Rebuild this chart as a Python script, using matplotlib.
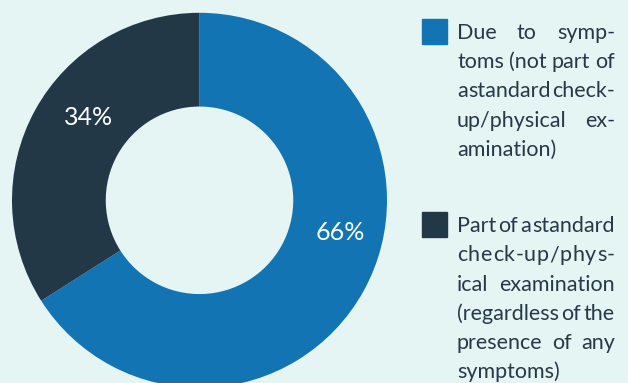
import matplotlib
matplotlib.use("Agg")
import matplotlib.pyplot as plt

# share of tests by reason
shares = [66, 34]
colors = ["#1274b3", "#233847"]

# legend text, already broken into lines
legend_lines = [
    ["Due to symp-", "toms (not part of", "a standard check-", "up/physical ex-", "amination)"],
    ["Part of a standard", "check-up/phys-", "ical examination", "(regardless of the",
     "presence of any", "symptoms)"],
]

BG = "#e5f5f4"
TXT = "#273847"
W, H = 628, 383

fig = plt.figure(figsize=(W / 100, H / 100), dpi=100, facecolor=BG)

# donut axes, centre (199.5, 200) px, outer radius 187.5 px
cx, cy, R = 199.5, 200.3, 187.5
ax = fig.add_axes([(cx - R) / W, (H - cy - R) / H, 2 * R / W, 2 * R / H])
ax.set_facecolor(BG)
wedges, _, pct = ax.pie(shares, colors=colors, startangle=90, counterclock=False,
                        autopct="%d%%", radius=1.0,
                        wedgeprops=dict(width=0.5, edgecolor="none"),
                        textprops=dict(color="white", fontsize=18, family="Lato"))
ax.set_xlim(-1, 1)
ax.set_ylim(-1, 1)
ax.set_aspect("equal")
ax.axis("off")
pct[0].set_position((0.75, -0.17))
pct[1].set_position((-0.59, 0.44))
for t in pct:
    t.set_ha("center")
    t.set_va("center")


def px(x, y):
    return x / W, 1 - y / H


renderer = fig.canvas.get_renderer()
x_left, x_right = 457, 615
squares_top = [19, 212]
baselines = [[39, 68, 97, 127, 156], [232, 261, 291, 320, 349, 378]]


def put_justified(tokens, y, stretch):
    texts = [fig.text(0, 0, s, fontsize=15.5, family="Lato", color=TXT,
                      ha="left", va="baseline") for s in tokens]
    widths = [t.get_window_extent(renderer).width for t in texts]
    if stretch and len(tokens) > 1:
        gap = (x_right - x_left - sum(widths)) / (len(tokens) - 1)
    else:
        gap = 5
    x = x_left
    for t, w in zip(texts, widths):
        t.set_position(px(x, y))
        x += w + gap


# justified legend text
for k, lines in enumerate(legend_lines):
    top = squares_top[k]
    fig.patches.append(plt.Rectangle(px(422, top + 25), 25 / W, 25 / H,
                                     transform=fig.transFigure, color=colors[k]))
    for i, line in enumerate(lines):
        last = i == len(lines) - 1
        words = line.split(" ")
        if len(words) == 1 and not last:
            # a lone word is spread letter by letter
            put_justified(list(line), baselines[k][i], True)
        else:
            put_justified(words, baselines[k][i], not last)

fig.savefig("out.png", dpi=100, facecolor=BG)
